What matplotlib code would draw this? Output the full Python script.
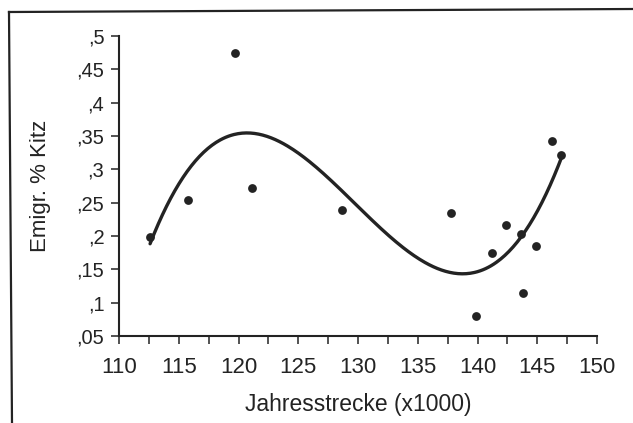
import numpy as np
import matplotlib
matplotlib.use("Agg")
import matplotlib.pyplot as plt
from matplotlib.lines import Line2D

plt.rcParams['font.family'] = ['Liberation Sans', 'DejaVu Sans']

# data
jahresstrecke = [112.6, 115.8, 119.7, 121.1, 128.7, 137.8, 139.9, 141.2,
                 142.4, 143.6, 143.8, 144.9, 146.2, 147.0]
emigr_kitz = [0.199, 0.254, 0.475, 0.272, 0.239, 0.234, 0.080, 0.174,
              0.217, 0.203, 0.115, 0.185, 0.343, 0.322]

x_ticks = [110, 112.5, 115, 117.5, 120, 122.5, 125, 127.5, 130, 132.5,
           135, 137.5, 140, 142.5, 145, 147.5, 150]
x_labels = ['110', '', '115', '', '120', '', '125', '', '130', '', '135', '',
            '140', '', '145', '', '150']
y_ticks = [0.05, 0.1, 0.15, 0.2, 0.25, 0.3, 0.35, 0.4, 0.45, 0.5]
y_labels = [',05', ',1', ',15', ',2', ',25', ',3', ',35', ',4', ',45', ',5']

ink = '#232323'
W, H = 633, 423

fig = plt.figure(figsize=(W / 100, H / 100), dpi=100)
ax = fig.add_axes([119 / W, 1 - 336 / H, (597 - 119) / W, 300 / H])

# cubic regression curve
coef = np.polyfit(jahresstrecke, emigr_kitz, 3)
xs = np.linspace(min(jahresstrecke), max(jahresstrecke), 300)
ax.plot(xs, np.polyval(coef, xs), color=ink, lw=2.4, solid_capstyle='round')

ax.scatter(jahresstrecke, emigr_kitz, s=40, color=ink, zorder=3, linewidths=0)

ax.set_xlim(110, 150)
ax.set_ylim(0.05, 0.5)
ax.set_xticks(x_ticks)
ax.set_xticklabels(x_labels)
ax.set_yticks(y_ticks)
ax.set_yticklabels(y_labels)
for s in ['top', 'right']:
    ax.spines[s].set_visible(False)
for s in ['left', 'bottom']:
    ax.spines[s].set_color(ink)
    ax.spines[s].set_linewidth(1.5)
ax.tick_params(direction='out', length=5.5, width=1.1, color=ink, labelcolor=ink)
ax.tick_params(axis='x', labelsize=16, pad=9.5)
ax.tick_params(axis='y', labelsize=14.5, pad=5)
ax.set_xlabel('Jahresstrecke (x1000)', fontsize=16.5, color=ink)
ax.set_ylabel('Emigr. % Kitz', fontsize=16, color=ink)
ax.xaxis.set_label_coords(0.5, -(393 - 336) / 300)
ax.yaxis.set_label_coords(-(119 - 51) / 478, 0.5)

# outer frame (left and top lines of the scanned box)
fig.add_artist(Line2D([9 / W, 12 / W], [1 - 12 / H, 0], transform=fig.transFigure,
                      color=ink, lw=1.6))
fig.add_artist(Line2D([9 / W, 1], [1 - 12 / H, 1 - 9 / H], transform=fig.transFigure,
                      color=ink, lw=1.6))

fig.savefig('out.png', dpi=100)
